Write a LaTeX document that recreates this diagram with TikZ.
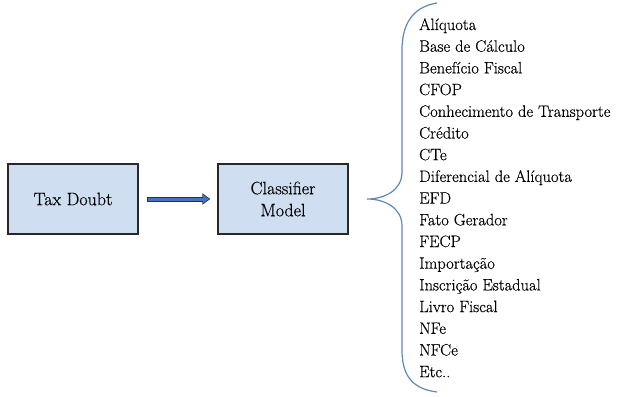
\documentclass[tikz,border=0pt]{standalone}
\usepackage{fontspec}
\newfontfamily\lmfont[FakeBold=0.4]{Latin Modern Roman}
\usetikzlibrary{arrows.meta}
\definecolor{boxfill}{RGB}{207,222,240}
\definecolor{boxline}{RGB}{40,40,40}
\definecolor{arrowblue}{RGB}{68,114,196}
\definecolor{arrowdark}{RGB}{35,50,80}
\definecolor{bracecol}{RGB}{95,135,185}
\begin{document}
\begin{tikzpicture}[x=1pt,y=-1pt,
  box/.style={draw=boxline, line width=1.4pt, fill=boxfill, minimum width=130pt, minimum height=70pt,
    inner sep=0pt, align=center, font=\lmfont\fontsize{18}{22}\selectfont},
  item/.style={inner sep=0pt, anchor=base west, font=\lmfont\fontsize{16.5}{20}\selectfont}]
\useasboundingbox (0,0) rectangle (620,396);
\node[box] (tax) at (73,199) {Tax Doubt};
\node[box] (clf) at (283,199) {Classifier\\Model};
\draw[line width=5pt, draw=arrowdark, fill=arrowdark, -{Triangle[length=8pt,width=11pt]}, shorten <=8pt, shorten >=7pt] (tax) -- (clf);
\draw[line width=3pt, draw=arrowblue, fill=arrowblue, -{Triangle[length=6pt,width=8pt]}, shorten <=9pt, shorten >=8.3pt] (tax) -- (clf);
\draw[bracecol, line width=1.2pt]
  (437,3) .. controls (412,7) and (402,25) .. (402,50) -- (402,172)
  .. controls (402,190) and (385,199) .. (367,199)
  .. controls (385,199) and (402,208) .. (402,226) -- (402,350)
  .. controls (402,375) and (412,389) .. (437,392);
\foreach \t [count=\i from 0] in {Alíquota,Base de Cálculo,Benefício Fiscal,CFOP,Conhecimento de Transporte,Crédito,CTe,Diferencial de Alíquota,EFD,Fato Gerador,FECP,Importação,Inscrição Estadual,Livro Fiscal,NFe,NFCe,Etc..}
  \node[item] (it\i) at (419,30+21.7*\i) {\t};
\end{tikzpicture}
\end{document}
